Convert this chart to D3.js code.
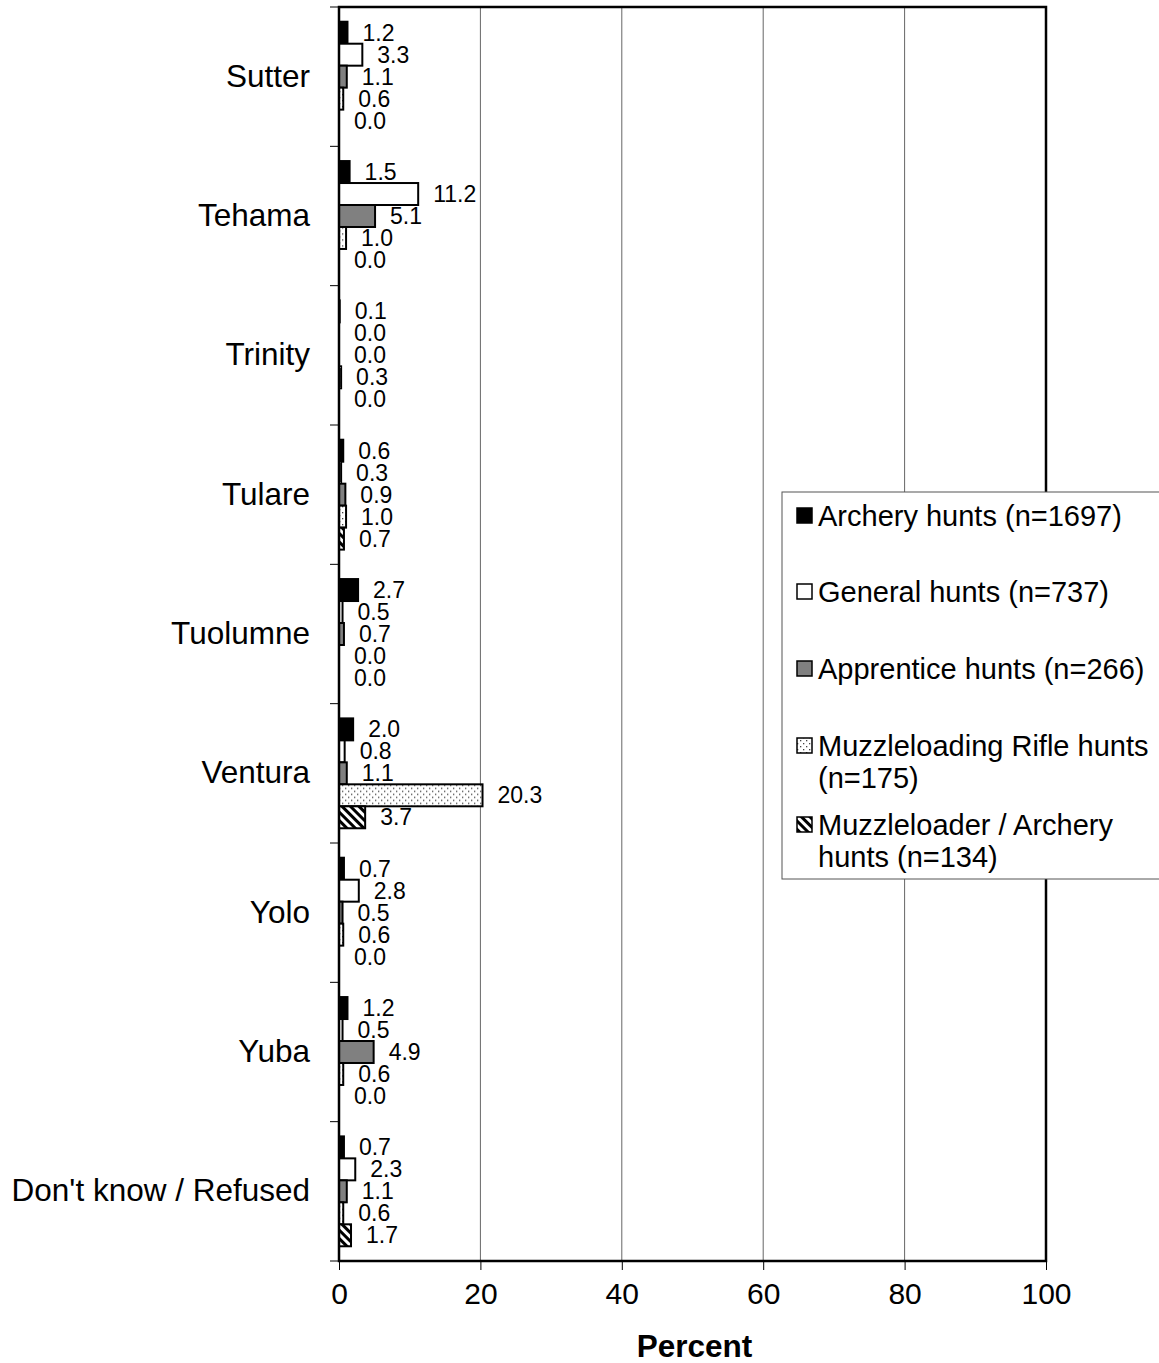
<!DOCTYPE html>
<html lang="en">
<head>
  <meta charset="UTF-8">
  <title>Hunts by county</title>
  <script src="https://d3js.org/d3.v7.min.js"></script>
  <style>
    body { margin: 0; background: #fff; font-family: "Liberation Sans", Arial, sans-serif; }
    svg text { fill: #000; }
  </style>
</head>
<body>
  <div id="chart"></div>
  <script>
    const counties = ["Sutter", "Tehama", "Trinity", "Tulare", "Tuolumne", "Ventura", "Yolo", "Yuba", "Don't know / Refused"];
    const seriesNames = ["Archery hunts (n=1697)", "General hunts (n=737)", "Apprentice hunts (n=266)",
      "Muzzleloading Rifle hunts (n=175)", "Muzzleloader / Archery hunts (n=134)"];
    const archery    = [1.2, 1.5, 0.1, 0.6, 2.7, 2.0, 0.7, 1.2, 0.7];
    const general    = [3.3, 11.2, 0.0, 0.3, 0.5, 0.8, 2.8, 0.5, 2.3];
    const apprentice = [1.1, 5.1, 0.0, 0.9, 0.7, 1.1, 0.5, 4.9, 1.1];
    const muzzleRifle = [0.6, 1.0, 0.3, 1.0, 0.0, 20.3, 0.6, 0.6, 0.6];
    const muzzleArch = [0.0, 0.0, 0.0, 0.7, 0.0, 3.7, 0.0, 0.0, 1.7];
    const xTicks = [0, 20, 40, 60, 80, 100];

    const seriesValues = [archery, general, apprentice, muzzleRifle, muzzleArch];
    // legend text lines (wrapped like the original)
    const legendLines = [["Archery hunts (n=1697)"], ["General hunts (n=737)"], ["Apprentice hunts (n=266)"],
      ["Muzzleloading Rifle hunts", "(n=175)"], ["Muzzleloader / Archery", "hunts (n=134)"]];

    const margin = {top: 7, right: 113, bottom: 102, left: 339},
      width = 1159 - margin.left - margin.right,
      height = 1363 - margin.top - margin.bottom;

    const root = d3.select("#chart").append("svg")
      .attr("width", 1159).attr("height", 1363);

    const defs = root.append("defs");
    const dots = defs.append("pattern").attr("id", "dots").attr("patternUnits", "userSpaceOnUse")
      .attr("width", 6).attr("height", 6);
    dots.append("rect").attr("width", 6).attr("height", 6).attr("fill", "#fff");
    dots.append("rect").attr("x", 0).attr("y", 0).attr("width", 1.3).attr("height", 1.3).attr("fill", "#444");
    dots.append("rect").attr("x", 3).attr("y", 3).attr("width", 1.3).attr("height", 1.3).attr("fill", "#444");
    const stripes = defs.append("pattern").attr("id", "stripes").attr("patternUnits", "userSpaceOnUse")
      .attr("width", 6).attr("height", 6).attr("patternTransform", "rotate(-45)");
    stripes.append("rect").attr("width", 6).attr("height", 6).attr("fill", "#fff");
    stripes.append("rect").attr("width", 3).attr("height", 6).attr("fill", "#000");

    const fills = ["#000", "#fff", "#808080", "url(#dots)", "url(#stripes)"];

    const svg = root.append("g").attr("transform", "translate(" + margin.left + "," + margin.top + ")");

    const x = d3.scaleLinear().domain([0, 100]).range([0, width]);
    const y0 = d3.scaleBand().domain(counties).range([0, height]);
    const y1 = d3.scaleBand().domain(d3.range(5)).range([0, y0.bandwidth()]).paddingOuter(0.67);

    // gridlines
    svg.selectAll(".grid").data(xTicks.slice(1, -1)).enter().append("line")
      .attr("x1", d => x(d)).attr("x2", d => x(d))
      .attr("y1", 0).attr("y2", height)
      .attr("stroke", "#666").attr("stroke-width", 1);

    // bars
    const groups = svg.selectAll(".county").data(counties).enter().append("g")
      .attr("transform", d => "translate(0," + y0(d) + ")");

    groups.each(function (c, ci) {
      const g = d3.select(this);
      const rows = seriesValues.map((vals, si) => ({si: si, v: vals[ci]}));
      g.selectAll("rect").data(rows).enter().append("rect")
        .attr("x", 0)
        .attr("y", d => y1(d.si))
        .attr("width", d => x(d.v))
        .attr("height", y1.bandwidth())
        .attr("fill", d => fills[d.si])
        .attr("stroke", "#000")
        .attr("stroke-width", d => d.v > 0 ? 2 : 0);
      g.selectAll("text").data(rows).enter().append("text")
        .attr("x", d => x(d.v) + 15)
        .attr("y", d => y1(d.si) + y1.bandwidth() / 2)
        .attr("dy", "0.35em")
        .style("font-size", "23px")
        .text(d => d.v.toFixed(1));
    });

    // frame
    svg.append("rect").attr("width", width).attr("height", height)
      .attr("fill", "none").attr("stroke", "#000").attr("stroke-width", 2.5);

    // y axis (category ticks on the left)
    const yAxis = d3.axisLeft(y0).tickSize(0).tickPadding(29);
    const yg = svg.append("g").call(yAxis);
    yg.select(".domain").remove();
    yg.selectAll("text").style("font-size", "31.5px").attr("font-family", null);
    svg.selectAll(".ytick").data(counties.map((c, i) => i).concat([counties.length])).enter().append("line")
      .attr("x1", -9).attr("x2", 0)
      .attr("y1", d => d * y0.step()).attr("y2", d => d * y0.step())
      .attr("stroke", "#000").attr("stroke-width", 1);

    // x axis
    const xAxis = d3.axisBottom(x).tickValues(xTicks).tickSize(9).tickPadding(13);
    const xg = svg.append("g").attr("transform", "translate(0," + height + ")").call(xAxis);
    xg.select(".domain").remove();
    xg.selectAll("line").attr("stroke", "#000");
    xg.selectAll("text").style("font-size", "30px").attr("font-family", null);

    svg.append("text")
      .attr("x", width / 2 + 2).attr("y", height + 96)
      .attr("text-anchor", "middle")
      .style("font-size", "31.5px").style("font-weight", "bold")
      .text("Percent");

    // legend
    const legend = root.append("g").attr("transform", "translate(782,492)");
    legend.append("rect").attr("x", 0).attr("y", 0).attr("width", 400).attr("height", 387)
      .attr("fill", "#fff").attr("stroke", "#555").attr("stroke-width", 1);
    const legendY = [24, 100, 177, 254, 333];
    legendLines.forEach((lines, i) => {
      const item = legend.append("g").attr("transform", "translate(0," + legendY[i] + ")");
      item.append("rect").attr("x", 15).attr("y", -8).attr("width", 15).attr("height", 15)
        .attr("fill", fills[i]).attr("stroke", "#000").attr("stroke-width", 1.5);
      lines.forEach((t, j) => {
        item.append("text").attr("x", 36).attr("y", j * 32).attr("dy", "0.35em")
          .style("font-size", "29px").text(t);
      });
    });
  </script>
</body>
</html>
